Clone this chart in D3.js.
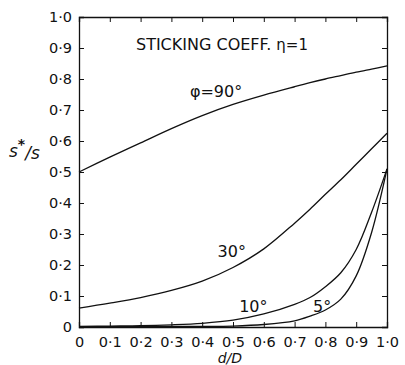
<!DOCTYPE html>
<html>
<head>
<meta charset="utf-8">
<script src="https://cdn.jsdelivr.net/npm/d3@7"></script>
<style>
  body { margin: 0; background: #fff; }
  text { font-family: "DejaVu Sans", sans-serif; fill: #111; }
</style>
</head>
<body>
<div id="chart"></div>
<script>
const xs = [0, 0.1, 0.2, 0.3, 0.4, 0.5, 0.6, 0.7, 0.75, 0.8, 0.85, 0.9, 0.95, 1.0];

// S*/S for each incidence angle
const phi90 = [0.5, 0.548, 0.594, 0.64, 0.682, 0.718, 0.748, 0.775, 0.788, 0.80, 0.811, 0.822, 0.832, 0.842];
const phi30 = [0.061, 0.077, 0.095, 0.118, 0.148, 0.192, 0.252, 0.335, 0.38, 0.428, 0.475, 0.525, 0.575, 0.625];
const phi10 = [0.002, 0.003, 0.004, 0.007, 0.012, 0.022, 0.042, 0.073, 0.095, 0.13, 0.175, 0.25, 0.37, 0.51];
const phi5  = [0.001, 0.001, 0.001, 0.002, 0.002, 0.003, 0.008, 0.02, 0.035, 0.055, 0.09, 0.165, 0.305, 0.51];

const tickVals = d3.range(0, 1.01, 0.1);
const fmt = v => v === 0 ? "0" : d3.format(".1f")(v).replace(".", "·");

const margin = { top: 17, right: 18, bottom: 38, left: 79 };
const W = 405, H = 365;
const width = W - margin.left - margin.right;
const height = H - margin.top - margin.bottom;

const svg = d3.select("#chart").append("svg")
    .attr("width", W)
    .attr("height", H)
    .append("g")
    .attr("transform", `translate(${margin.left},${margin.top})`);

const x = d3.scaleLinear().domain([0, 1]).range([0, width]);
const y = d3.scaleLinear().domain([0, 1]).range([height, 0]);

// axes, ticks pointing inwards on all four sides
const bottom = svg.append("g")
    .attr("transform", `translate(0,${height})`)
    .call(d3.axisBottom(x).tickValues(tickVals).tickFormat(fmt).tickSize(-5).tickPadding(10));
const left = svg.append("g")
    .call(d3.axisLeft(y).tickValues(tickVals).tickFormat(fmt).tickSize(-5).tickPadding(7));
svg.append("g")
    .call(d3.axisTop(x).tickValues(tickVals).tickFormat("").tickSize(-5));
svg.append("g")
    .attr("transform", `translate(${width},0)`)
    .call(d3.axisRight(y).tickValues(tickVals).tickFormat("").tickSize(-5));

svg.selectAll(".domain").attr("stroke", "#111").attr("stroke-width", 1.3);
svg.selectAll(".tick line").attr("stroke", "#111");
bottom.selectAll("text").attr("font-size", "14.5px").attr("font-family", "DejaVu Sans").attr("fill", "#111");
left.selectAll("text").attr("font-size", "14.5px").attr("font-family", "DejaVu Sans").attr("fill", "#111");

// curves
const line = d3.line()
    .x((d, i) => x(xs[i]))
    .y(d => y(d))
    .curve(d3.curveCatmullRom.alpha(0.5));

[phi90, phi30, phi10, phi5].forEach(s => {
    svg.append("path")
        .datum(s)
        .attr("fill", "none")
        .attr("stroke", "#111")
        .attr("stroke-width", 1.3)
        .attr("d", line);
});

// curve labels
const labels = [
    { t: "φ=90°", xv: 0.36, yv: 0.742 },
    { t: "30°", xv: 0.45, yv: 0.226 },
    { t: "10°", xv: 0.52, yv: 0.048 },
    { t: "5°", xv: 0.76, yv: 0.048 }
];
svg.selectAll(".clabel")
    .data(labels)
    .enter().append("text")
    .attr("class", "clabel")
    .attr("x", d => x(d.xv))
    .attr("y", d => y(d.yv))
    .attr("font-size", "16px")
    .text(d => d.t);

// title inside the plot
const title = svg.append("text")
    .attr("x", x(0.185))
    .attr("y", y(0.892))
    .attr("font-size", "16px")
    .text("STICKING COEFF. ");
title.append("tspan").attr("font-size", "15px").text("η=1");

// axis titles
svg.append("text")
    .attr("x", x(0.49))
    .attr("y", height + 36)
    .attr("text-anchor", "middle")
    .attr("font-style", "italic")
    .attr("font-size", "14px")
    .text("d/D");

const yl = svg.append("text")
    .attr("x", -70)
    .attr("y", y(0.55))
    .attr("font-style", "italic")
    .attr("font-size", "17px")
    .text("s");
yl.append("tspan").attr("dy", -8).attr("font-size", "14px").attr("font-weight", "bold").attr("font-style", "normal").text("*");
yl.append("tspan").attr("dy", 10).attr("font-size", "17px").text("/s");
</script>
</body>
</html>
